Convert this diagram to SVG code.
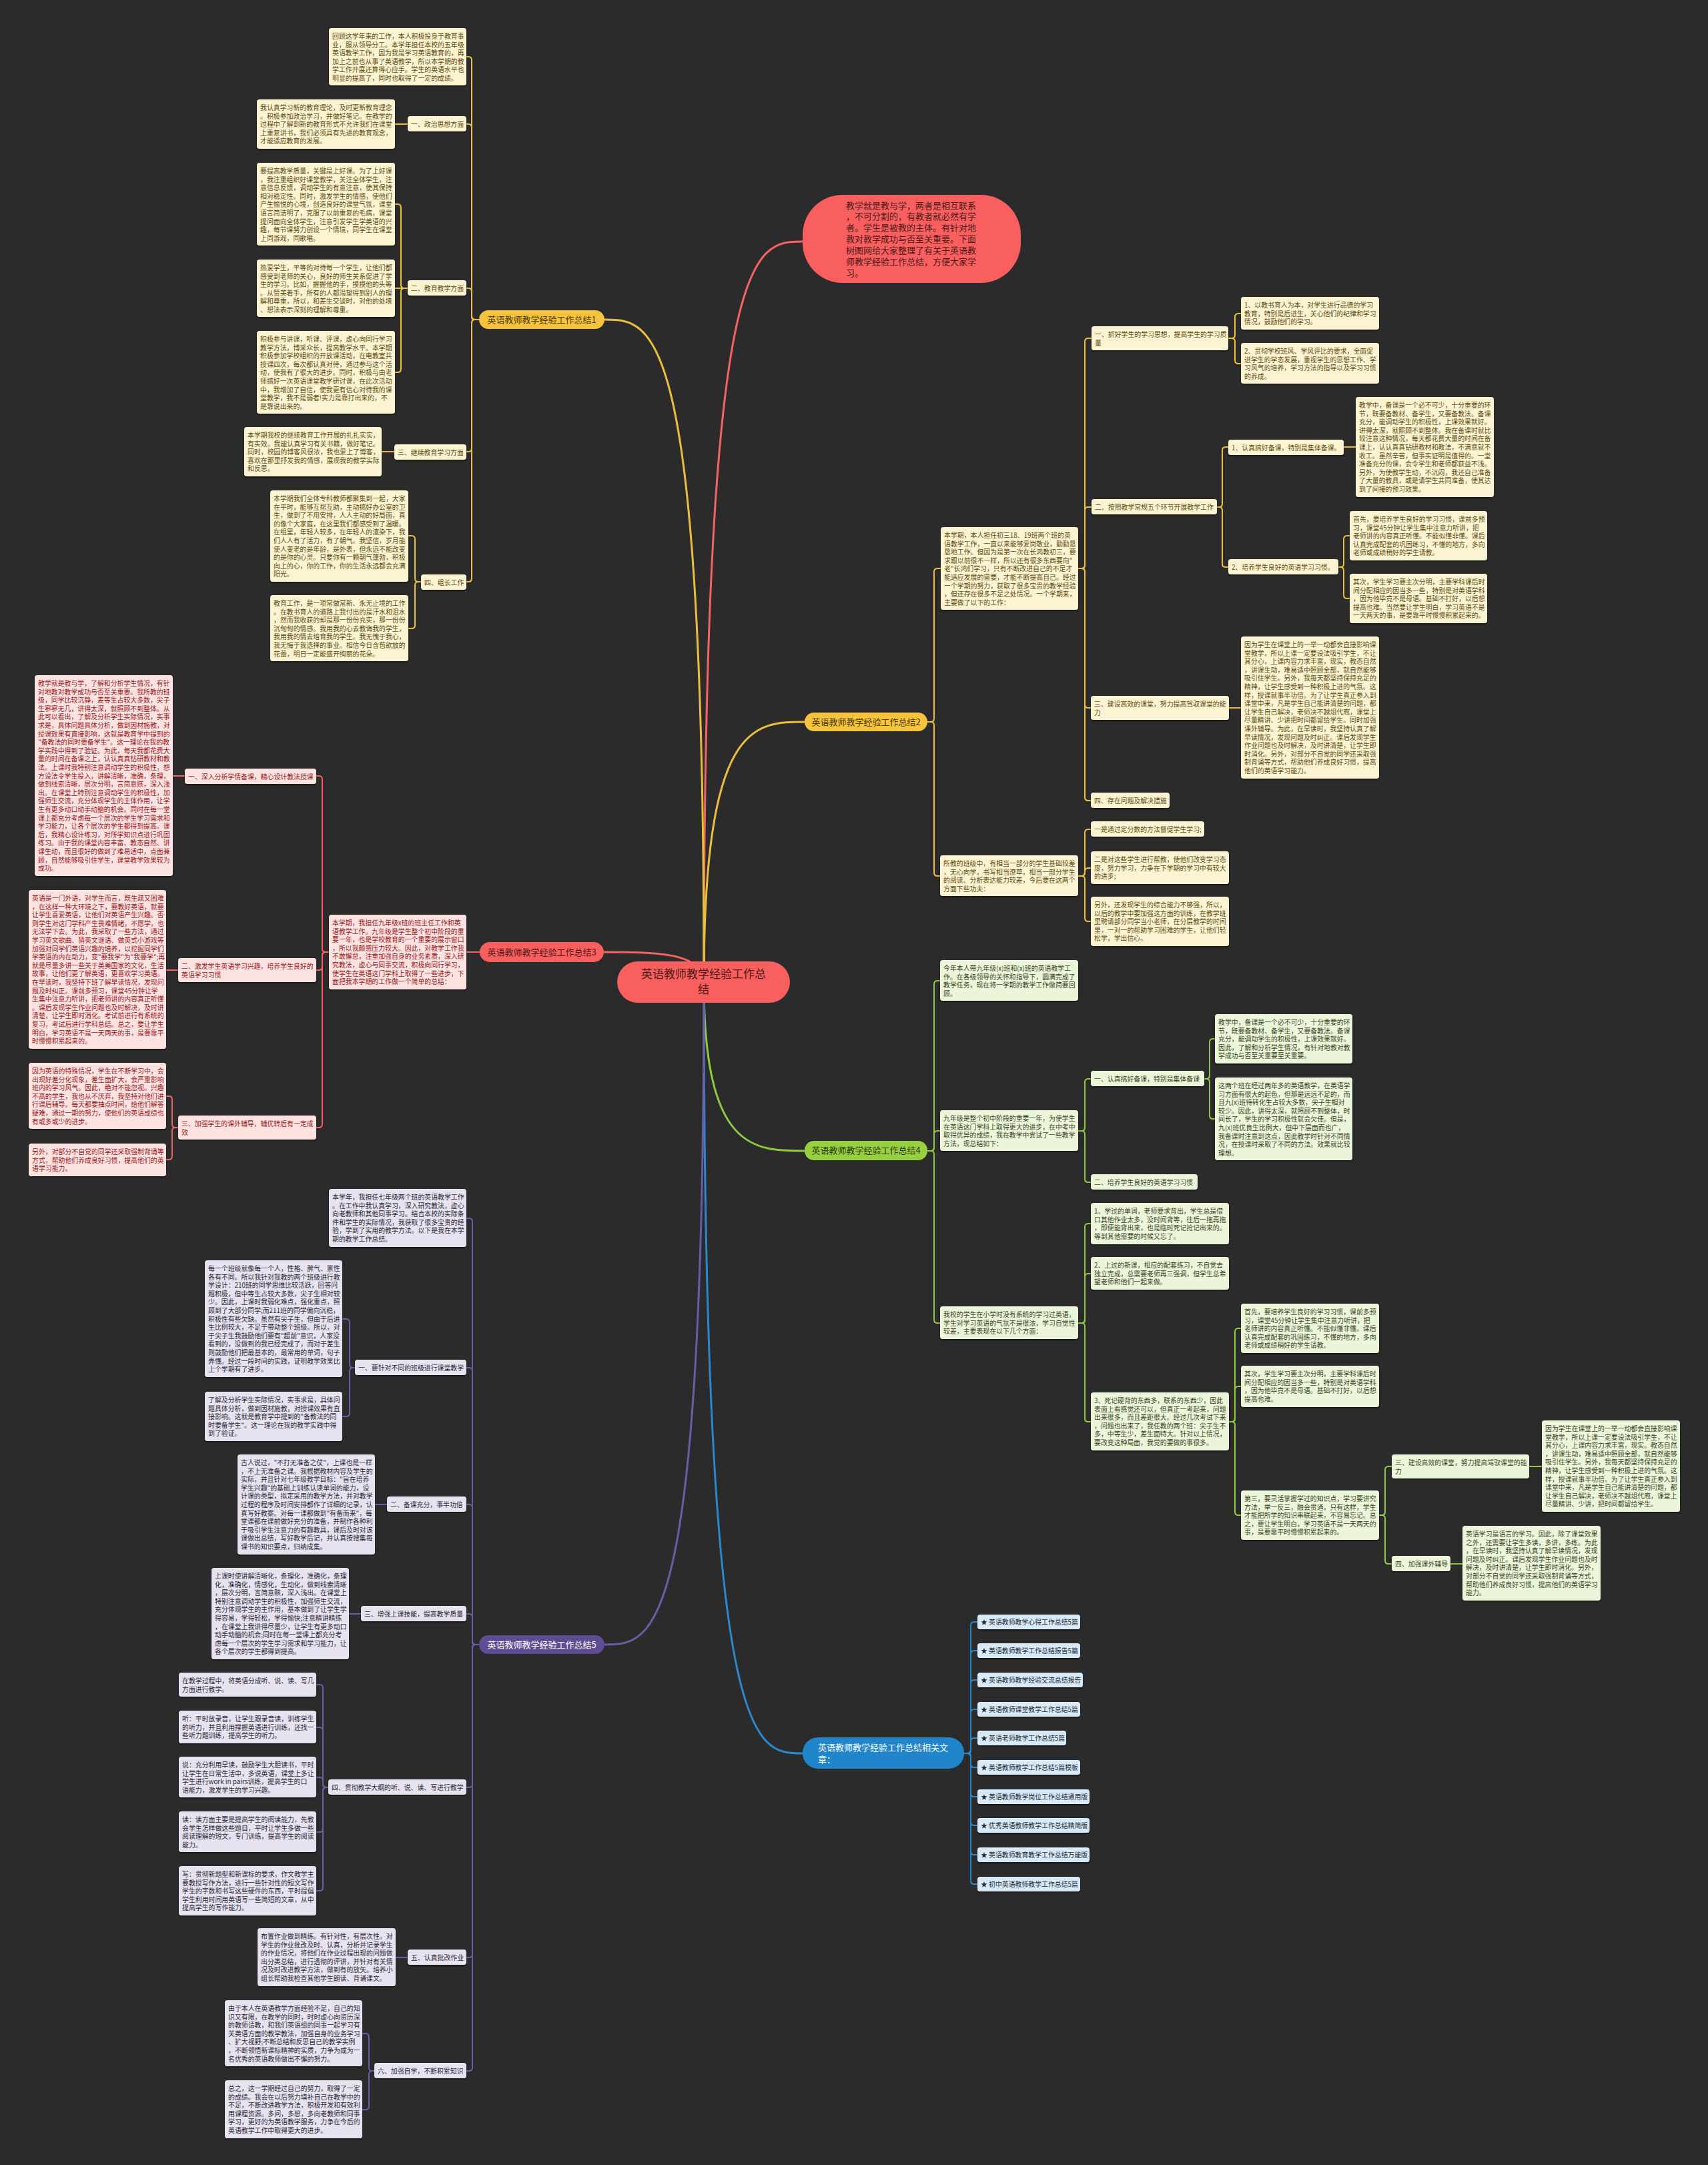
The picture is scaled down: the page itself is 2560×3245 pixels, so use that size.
<svg xmlns="http://www.w3.org/2000/svg" width="2560" height="3245" viewBox="0 0 2560 3245">
<defs>
<filter id="sh" x="-5%" y="-5%" width="110%" height="115%"><feDropShadow dx="0" dy="1.5" stdDeviation="1" flood-color="#000" flood-opacity="0.55"/></filter>
<style>
text{font-family:"Noto Sans CJK SC","Noto Sans CJK JP","Liberation Sans",sans-serif;font-size:9.9px}
.t13{font-size:13px}
.t17{font-size:17px}
.mid{text-anchor:middle}
.by{fill:#fcf3d2;filter:url(#sh)}
.br{fill:#fde2e2;filter:url(#sh)}
.bg{fill:#ebf5da;filter:url(#sh)}
.bp{fill:#e6e2f0;filter:url(#sh)}
.bb{fill:#d8e9f7;filter:url(#sh)}
.xy{fill:#5e4c10}
.xr{fill:#962020}
.xg{fill:#3b4526}
.xp{fill:#2c2a35}
.xb{fill:#1e2a35}
.ny{fill:#f6c33e}
.nr{fill:#f95f5f}
.ng{fill:#97d03f}
.np{fill:#5f4c92}
.nb{fill:#2185cb}
.nty{fill:#4a3a08}
.ntr{fill:#4d1a1a}
.ntg{fill:#2d3a10}
.ntw{fill:#ffffff}
.c{fill:none;stroke-width:2}
.cm{fill:none;stroke-width:3}
.cy{stroke:#eabf3a}
.cr{stroke:#f26464}
.cg{stroke:#8fca3e}
.cp{stroke:#6e5ba6}
.cb{stroke:#2a88cf}
</style>
</defs>
<rect width="2560" height="3245" fill="#2b2b2b"/>

<g id="connectors">
<path class="cm cr" d="M1055 1472 C1055 362 1129 362 1203 362"/>
<path class="cm cy" d="M1055 1472 C1055 1082 1130 1082 1206 1082"/>
<path class="cm cg" d="M1055 1472 C1055 1725 1130 1725 1206 1725"/>
<path class="cm cb" d="M1055 1472 C1055 2628 1129 2628 1203 2628"/>
<path class="cm cy" d="M1055 1472 C1055 479 980 479 906 479"/>
<path class="cm cr" d="M1055 1472 C1055 1427 980 1427 905 1427"/>
<path class="cm cp" d="M1055 1472 C1055 2465 980 2465 906 2465"/>

<path class="c cy" d="M718 479 H712 Q707 479 707 474 V90 Q707 85 702 85 H699"/>
<path class="c cy" d="M718 479 H712 Q707 479 707 474 V191 Q707 186 702 186 H699"/>
<path class="c cy" d="M718 479 H712 Q707 479 707 474 V437 Q707 432 702 432 H699"/>
<path class="c cy" d="M718 479 H712 Q707 479 707 484 V672 Q707 677 702 677 H699"/>
<path class="c cy" d="M718 479 H712 Q707 479 707 484 V867 Q707 872 702 872 H699"/>
<path class="c cy" d="M611 186 H592"/>
<path class="c cy" d="M611 432 H606 Q601 432 601 427 V311 Q601 306 596 306 H592"/>
<path class="c cy" d="M611 432 H592"/>
<path class="c cy" d="M611 432 H606 Q601 432 601 437 V553 Q601 558 596 558 H592"/>
<path class="c cy" d="M591 677 H572"/>
<path class="c cy" d="M631 872 H627 Q622 872 622 867 V808 Q622 803 617 803 H612"/>
<path class="c cy" d="M631 872 H627 Q622 872 622 877 V937 Q622 942 617 942 H612"/>

<path class="c cr" d="M719 1427 H699"/>
<path class="c cr" d="M493 1427 H488 Q483 1427 483 1422 V1168 Q483 1163 478 1163 H474"/>
<path class="c cr" d="M493 1427 H488 Q483 1427 483 1432 V1449 Q483 1454 478 1454 H474"/>
<path class="c cr" d="M493 1427 H488 Q483 1427 483 1432 V1685 Q483 1690 478 1690 H474"/>
<path class="c cr" d="M277 1163 H259"/>
<path class="c cr" d="M267 1454 H249"/>
<path class="c cr" d="M267 1690 H263 Q258 1690 258 1685 V1648 Q258 1643 253 1643 H249"/>
<path class="c cr" d="M267 1690 H263 Q258 1690 258 1695 V1733 Q258 1738 253 1738 H249"/>

<path class="c cy" d="M1390 1082 H1395 Q1400 1082 1400 1077 V857 Q1400 852 1405 852 H1410"/>
<path class="c cy" d="M1390 1082 H1395 Q1400 1082 1400 1087 V1308 Q1400 1313 1405 1313 H1409"/>
<path class="c cy" d="M1616 852 H1621 Q1626 852 1626 847 V512 Q1626 507 1631 507 H1636"/>
<path class="c cy" d="M1616 852 H1621 Q1626 852 1626 847 V765 Q1626 760 1631 760 H1636"/>
<path class="c cy" d="M1616 852 H1621 Q1626 852 1626 857 V1056 Q1626 1061 1631 1061 H1635"/>
<path class="c cy" d="M1616 852 H1621 Q1626 852 1626 857 V1195 Q1626 1200 1631 1200 H1635"/>
<path class="c cy" d="M1841 507 H1846 Q1851 507 1851 502 V475 Q1851 470 1856 470 H1860"/>
<path class="c cy" d="M1841 507 H1846 Q1851 507 1851 512 V540 Q1851 545 1856 545 H1860"/>
<path class="c cy" d="M1824 760 H1827 Q1832 760 1832 755 V675 Q1832 670 1837 670 H1841"/>
<path class="c cy" d="M1824 760 H1827 Q1832 760 1832 765 V845 Q1832 850 1837 850 H1841"/>
<path class="c cy" d="M2014 670 H2032"/>
<path class="c cy" d="M2006 850 H2009 Q2014 850 2014 845 V808 Q2014 803 2019 803 H2023"/>
<path class="c cy" d="M2006 850 H2009 Q2014 850 2014 855 V892 Q2014 897 2019 897 H2023"/>
<path class="c cy" d="M1842 1061 H1860"/>
<path class="c cy" d="M1616 1313 H1621 Q1626 1313 1626 1308 V1248 Q1626 1243 1631 1243 H1635"/>
<path class="c cy" d="M1616 1313 H1621 Q1626 1313 1626 1307 Q1626 1301 1631 1301 H1635"/>
<path class="c cy" d="M1616 1313 H1621 Q1626 1313 1626 1318 V1376 Q1626 1381 1631 1381 H1635"/>

<path class="c cg" d="M1390 1725 H1395 Q1400 1725 1400 1720 V1475 Q1400 1470 1405 1470 H1409"/>
<path class="c cg" d="M1390 1725 H1395 Q1400 1725 1400 1720 V1700 Q1400 1695 1405 1695 H1409"/>
<path class="c cg" d="M1390 1725 H1395 Q1400 1725 1400 1730 V1978 Q1400 1983 1405 1983 H1409"/>
<path class="c cg" d="M1616 1695 H1621 Q1626 1695 1626 1690 V1622 Q1626 1617 1631 1617 H1635"/>
<path class="c cg" d="M1616 1695 H1621 Q1626 1695 1626 1700 V1767 Q1626 1772 1631 1772 H1635"/>
<path class="c cg" d="M1805 1617 H1808 Q1813 1617 1813 1612 V1562 Q1813 1557 1818 1557 H1821"/>
<path class="c cg" d="M1805 1617 H1808 Q1813 1617 1813 1622 V1672 Q1813 1677 1818 1677 H1821"/>
<path class="c cg" d="M1616 1983 H1621 Q1626 1983 1626 1978 V1839 Q1626 1834 1631 1834 H1635"/>
<path class="c cg" d="M1616 1983 H1621 Q1626 1983 1626 1978 V1914 Q1626 1909 1631 1909 H1635"/>
<path class="c cg" d="M1616 1983 H1621 Q1626 1983 1626 1988 V2126 Q1626 2131 1631 2131 H1635"/>
<path class="c cg" d="M1842 2131 H1846 Q1851 2131 1851 2126 V1996 Q1851 1991 1856 1991 H1860"/>
<path class="c cg" d="M1842 2131 H1846 Q1851 2131 1851 2126 V2083 Q1851 2078 1856 2078 H1860"/>
<path class="c cg" d="M1842 2131 H1846 Q1851 2131 1851 2136 V2266 Q1851 2271 1856 2271 H1860"/>
<path class="c cg" d="M2067 2271 H2071 Q2076 2271 2076 2266 V2203 Q2076 2198 2081 2198 H2086"/>
<path class="c cg" d="M2067 2271 H2071 Q2076 2271 2076 2276 V2339 Q2076 2344 2081 2344 H2086"/>
<path class="c cg" d="M2292 2198 H2311"/>
<path class="c cg" d="M2174 2344 H2192"/>

<path class="c cp" d="M718 2465 H713 Q708 2465 708 2460 V1831 Q708 1826 703 1826 H699"/>
<path class="c cp" d="M718 2465 H713 Q708 2465 708 2460 V2055 Q708 2050 703 2050 H699"/>
<path class="c cp" d="M718 2465 H713 Q708 2465 708 2460 V2260 Q708 2255 703 2255 H699"/>
<path class="c cp" d="M718 2465 H713 Q708 2465 708 2460 V2424 Q708 2419 703 2419 H699"/>
<path class="c cp" d="M718 2465 H713 Q708 2465 708 2470 V2674 Q708 2679 703 2679 H699"/>
<path class="c cp" d="M718 2465 H713 Q708 2465 708 2470 V2929 Q708 2934 703 2934 H699"/>
<path class="c cp" d="M718 2465 H713 Q708 2465 708 2470 V3099 Q708 3104 703 3104 H699"/>
<path class="c cp" d="M532 2050 H529 Q524 2050 524 2045 V1982 Q524 1977 519 1977 H513"/>
<path class="c cp" d="M532 2050 H529 Q524 2050 524 2055 V2118 Q524 2123 519 2123 H513"/>
<path class="c cp" d="M580 2255 H562"/>
<path class="c cp" d="M541 2419 H523"/>
<path class="c cp" d="M492 2679 H489 Q484 2679 484 2674 V2530 Q484 2525 479 2525 H474"/>
<path class="c cp" d="M492 2679 H489 Q484 2679 484 2674 V2594 Q484 2589 479 2589 H474"/>
<path class="c cp" d="M492 2679 H489 Q484 2679 484 2674 V2669 Q484 2664 479 2664 H474"/>
<path class="c cp" d="M492 2679 H489 Q484 2679 484 2684 V2741 Q484 2746 479 2746 H474"/>
<path class="c cp" d="M492 2679 H489 Q484 2679 484 2684 V2829 Q484 2834 479 2834 H474"/>
<path class="c cp" d="M611 2934 H593"/>
<path class="c cp" d="M561 3104 H558 Q553 3104 553 3099 V3053 Q553 3048 548 3048 H543"/>
<path class="c cp" d="M561 3104 H558 Q553 3104 553 3109 V3157 Q553 3162 548 3162 H543"/>

<path class="c cb" d="M1445 2628 H1450 Q1455 2628 1455 2623 V2436 Q1455 2431 1460 2431 H1465"/>
<path class="c cb" d="M1445 2628 H1450 Q1455 2628 1455 2623 V2479 Q1455 2474 1460 2474 H1465"/>
<path class="c cb" d="M1445 2628 H1450 Q1455 2628 1455 2623 V2523 Q1455 2518 1460 2518 H1465"/>
<path class="c cb" d="M1445 2628 H1450 Q1455 2628 1455 2623 V2567 Q1455 2562 1460 2562 H1465"/>
<path class="c cb" d="M1445 2628 H1450 Q1455 2628 1455 2623 V2610 Q1455 2605 1460 2605 H1465"/>
<path class="c cb" d="M1445 2628 H1450 Q1455 2628 1455 2633 V2644 Q1455 2649 1460 2649 H1465"/>
<path class="c cb" d="M1445 2628 H1450 Q1455 2628 1455 2633 V2688 Q1455 2693 1460 2693 H1465"/>
<path class="c cb" d="M1445 2628 H1450 Q1455 2628 1455 2633 V2731 Q1455 2736 1460 2736 H1465"/>
<path class="c cb" d="M1445 2628 H1450 Q1455 2628 1455 2633 V2775 Q1455 2780 1460 2780 H1465"/>
<path class="c cb" d="M1445 2628 H1450 Q1455 2628 1455 2633 V2819 Q1455 2824 1460 2824 H1465"/>
</g>

<g id="root"><rect class="nr" x="925" y="1441" width="259" height="62" rx="31"/><text class="t17 mid ntr" x="1054.5" y="1466">英语教师教学经验工作总<tspan x="1054.5" y="1489">结</tspan></text></g>

<g id="intro"><rect class="nr" x="1203" y="292" width="327" height="132" rx="60"/><text class="t13 ntr" x="1268" y="312.5"><tspan>教学就是教与学，两者是相互联系</tspan><tspan x="1268" dy="16.87">，不可分割的，有教者就必然有学</tspan><tspan x="1268" dy="16.87">者。学生是被教的主体。有针对地</tspan><tspan x="1268" dy="16.87">教对教学成功与否至关重要。下面</tspan><tspan x="1268" dy="16.87">树图网给大家整理了有关于英语教</tspan><tspan x="1268" dy="16.87">师教学经验工作总结，方便大家学</tspan><tspan x="1268" dy="16.87">习。</tspan></text></g>

<!-- Section 1 -->
<g id="n1"><rect class="ny" x="718" y="465" width="188" height="28" rx="14"/><text class="t13 mid nty" x="812" y="484">英语教师教学经验工作总结1</text></g>
<g id="a1"><rect class="by" x="493" y="42" width="206" height="86" rx="4"/><text class="xy" x="498" y="58"><tspan>回顾这学年来的工作，本人积极投身于教育事</tspan><tspan x="498" dy="12.6">业，服从领导分工。本学年担任本校的五年级</tspan><tspan x="498" dy="12.6">英语教学工作，因为我是学习英语教育的，再</tspan><tspan x="498" dy="12.6">加上之前也从事了英语教学，所以本学期的教</tspan><tspan x="498" dy="12.6">学工作开展还算得心应手。学生的英语水平也</tspan><tspan x="498" dy="12.6">明显的提高了，同时也取得了一定的成绩。</tspan></text></g>
<g id="l1-1"><rect class="by" x="611" y="174" width="88" height="23" rx="4"/><text class="xy" x="616" y="190">一、政治思想方面</text></g>
<g id="b1"><rect class="by" x="385" y="149" width="207" height="74" rx="4"/><text class="xy" x="390" y="165"><tspan>我认真学习新的教育理论，及时更新教育理念</tspan><tspan x="390" dy="12.6">。积极参加政治学习，并做好笔记。在教学的</tspan><tspan x="390" dy="12.6">过程中了解到新的教育形式不允许我们在课堂</tspan><tspan x="390" dy="12.6">上重复讲书，我们必须具有先进的教育观念，</tspan><tspan x="390" dy="12.6">才能适应教育的发展。</tspan></text></g>
<g id="l1-2"><rect class="by" x="611" y="420" width="88" height="23" rx="4"/><text class="xy" x="616" y="436">二、教育教学方面</text></g>
<g id="c1"><rect class="by" x="385" y="244" width="207" height="124" rx="4"/><text class="xy" x="390" y="260"><tspan>要提高教学质量，关键是上好课。为了上好课</tspan><tspan x="390" dy="12.6">，我注重组织好课堂教学，关注全体学生，注</tspan><tspan x="390" dy="12.6">意信息反馈，调动学生的有意注意，使其保持</tspan><tspan x="390" dy="12.6">相对稳定性。同时，激发学生的情感，使他们</tspan><tspan x="390" dy="12.6">产生愉悦的心境，创造良好的课堂气氛，课堂</tspan><tspan x="390" dy="12.6">语言简洁明了，克服了以前重复的毛病，课堂</tspan><tspan x="390" dy="12.6">提问面向全体学生，注意引发学生学英语的兴</tspan><tspan x="390" dy="12.6">趣，每节课努力创设一个情境，同学生在课堂</tspan><tspan x="390" dy="12.6">上同游戏，同歌唱。</tspan></text></g>
<g id="c2"><rect class="by" x="385" y="389" width="207" height="86" rx="4"/><text class="xy" x="390" y="405"><tspan>热爱学生，平等的对待每一个学生，让他们都</tspan><tspan x="390" dy="12.6">感受到老师的关心，良好的师生关系促进了学</tspan><tspan x="390" dy="12.6">生的学习。比如，握握他的手，摸摸他的头等</tspan><tspan x="390" dy="12.6">。从赞美着手，所有的人都渴望得到别人的理</tspan><tspan x="390" dy="12.6">解和尊重，所以，和差生交谈时，对他的处境</tspan><tspan x="390" dy="12.6">、想法表示深刻的理解和尊重。</tspan></text></g>
<g id="c3"><rect class="by" x="385" y="496" width="207" height="124" rx="4"/><text class="xy" x="390" y="512"><tspan>积极参与讲课，听课、评课，虚心向同行学习</tspan><tspan x="390" dy="12.6">教学方法，博采众长，提高教学水平。本学期</tspan><tspan x="390" dy="12.6">积极参加学校组织的开放课活动，在电教室共</tspan><tspan x="390" dy="12.6">授课四次，每次都认真对待，通过参与这个活</tspan><tspan x="390" dy="12.6">动，使我有了很大的进步。同时，积极与由老</tspan><tspan x="390" dy="12.6">师搞好一次英语课堂教学研讨课，在此次活动</tspan><tspan x="390" dy="12.6">中，我增加了自信，使我更有信心对待我的课</tspan><tspan x="390" dy="12.6">堂教学，我不是弱者!实力是靠打出来的，不</tspan><tspan x="390" dy="12.6">是靠说出来的。</tspan></text></g>
<g id="l1-3"><rect class="by" x="591" y="666" width="108" height="23" rx="4"/><text class="xy" x="596" y="682">三、继续教育学习方面</text></g>
<g id="d1"><rect class="by" x="366" y="640" width="206" height="74" rx="4"/><text class="xy" x="371" y="656"><tspan>本学期我校的继续教育工作开展的扎扎实实，</tspan><tspan x="371" dy="12.6">有实效。我能认真学习有关书籍，做好笔记。</tspan><tspan x="371" dy="12.6">同时，校园的博客风很浓，我也爱上了博客，</tspan><tspan x="371" dy="12.6">喜欢在那里抒发我的情感，展现我的教学实际</tspan><tspan x="371" dy="12.6">和反思。</tspan></text></g>
<g id="l1-4"><rect class="by" x="631" y="861" width="68" height="23" rx="4"/><text class="xy" x="636" y="877">四、组长工作</text></g>
<g id="e1"><rect class="by" x="405" y="735" width="207" height="137" rx="4"/><text class="xy" x="410" y="751"><tspan>本学期我们全体专科教师都聚集到一起，大家</tspan><tspan x="410" dy="12.6">在平时，能够互帮互助，主动搞好办公室的卫</tspan><tspan x="410" dy="12.6">生，做到了不用安排，人人主动的好局面，真</tspan><tspan x="410" dy="12.6">的像个大家庭，在这里我们都感受到了温暖。</tspan><tspan x="410" dy="12.6">在组里，年轻人较多，在年轻人的渲染下，我</tspan><tspan x="410" dy="12.6">们人人有了活力，有了朝气。我坚信，岁月能</tspan><tspan x="410" dy="12.6">使人变老的是年龄，是外表，但永远不能改变</tspan><tspan x="410" dy="12.6">的是你的心灵。只要你有一颗朝气蓬勃，积极</tspan><tspan x="410" dy="12.6">向上的心，你的工作，你的生活永远都会充满</tspan><tspan x="410" dy="12.6">阳光。</tspan></text></g>
<g id="e2"><rect class="by" x="405" y="892" width="207" height="99" rx="4"/><text class="xy" x="410" y="908"><tspan>教育工作，是一项常做常新、永无止境的工作</tspan><tspan x="410" dy="12.6">。在教书育人的道路上我付出的是汗水和泪水</tspan><tspan x="410" dy="12.6">，然而我收获的却是那一份份充实，那一份份</tspan><tspan x="410" dy="12.6">沉甸甸的情感。我用我的心去教诲我的学生，</tspan><tspan x="410" dy="12.6">我用我的情去培育我的学生。我无愧于我心，</tspan><tspan x="410" dy="12.6">我无悔于我选择的事业。相信今日含苞欲放的</tspan><tspan x="410" dy="12.6">花蕾，明日一定能盛开绚丽的花朵。</tspan></text></g>

<!-- Section 3 -->
<g id="n3"><rect class="nr" x="719" y="1412" width="186" height="30" rx="15"/><text class="t13 mid ntr" x="812" y="1432">英语教师教学经验工作总结3</text></g>
<g id="f0"><rect class="br" x="493" y="1371" width="206" height="112" rx="4"/><text class="xr" x="498" y="1387"><tspan>本学期，我担任九年级x班的班主任工作和英</tspan><tspan x="498" dy="12.6">语教学工作。九年级是学生整个初中阶段的重</tspan><tspan x="498" dy="12.6">要一年，也是学校教育的一个重要的展示窗口</tspan><tspan x="498" dy="12.6">，所以我颇感压力较大。因此，对教学工作我</tspan><tspan x="498" dy="12.6">不敢懈怠，注重加强自身的业务素质，深入研</tspan><tspan x="498" dy="12.6">究教法，虚心与同事交流，积极向同行学习，</tspan><tspan x="498" dy="12.6">使学生在英语这门学科上取得了一些进步，下</tspan><tspan x="498" dy="12.6">面把我本学期的工作做一个简单的总结：</tspan></text></g>
<g id="g1"><rect class="br" x="277" y="1152" width="197" height="23" rx="4"/><text class="xr" x="282" y="1168">一、深入分析学情备课，精心设计教法授课</text></g>
<g id="g1a"><rect class="br" x="52" y="1012" width="207" height="301" rx="4"/><text class="xr" x="57" y="1028"><tspan>教学就是教与学，了解和分析学生情况，有针</tspan><tspan x="57" dy="12.6">对地教对教学成功与否至关重要。我所教的班</tspan><tspan x="57" dy="12.6">级，同学比较沉静，差等生占较大多数，尖子</tspan><tspan x="57" dy="12.6">生寥寥无几，讲得太深，就照顾不到整体。从</tspan><tspan x="57" dy="12.6">此可以看出，了解及分析学生实际情况，实事</tspan><tspan x="57" dy="12.6">求是，具体问题具体分析，做到因材施教，对</tspan><tspan x="57" dy="12.6">授课效果有直接影响，这就是教育学中提到的</tspan><tspan x="57" dy="12.6">"备教法的同时要备学生"。这一理论在我的教</tspan><tspan x="57" dy="12.6">学实践中得到了验证。为此，每天我都花费大</tspan><tspan x="57" dy="12.6">量的时间在备课之上，认认真真钻研教材和教</tspan><tspan x="57" dy="12.6">法。上课时我特别注意调动学生的积极性，想</tspan><tspan x="57" dy="12.6">方设法令学生投入，讲解清晰，准确，条理，</tspan><tspan x="57" dy="12.6">做到线索清晰，层次分明，言简意赅，深入浅</tspan><tspan x="57" dy="12.6">出。在课堂上特别注意调动学生的积极性，加</tspan><tspan x="57" dy="12.6">强师生交流，充分体现学生的主体作用，让学</tspan><tspan x="57" dy="12.6">生有更多动口动手动脑的机会。同时在每一堂</tspan><tspan x="57" dy="12.6">课上都充分考虑每一个层次的学生学习需求和</tspan><tspan x="57" dy="12.6">学习能力，让各个层次的学生都得到提高。课</tspan><tspan x="57" dy="12.6">后，我精心设计练习，对所学知识点进行巩固</tspan><tspan x="57" dy="12.6">练习。由于我的课堂内容丰富、教态自然、讲</tspan><tspan x="57" dy="12.6">课生动，而且很好的做到了难易适中，点面兼</tspan><tspan x="57" dy="12.6">顾，自然能够吸引住学生，课堂教学效果较为</tspan><tspan x="57" dy="12.6">成功。</tspan></text></g>
<g id="g2"><rect class="br" x="267" y="1436" width="207" height="36" rx="4"/><text class="xr" x="272" y="1452"><tspan>二、激发学生英语学习兴趣，培养学生良好的</tspan><tspan x="272" dy="12.6">英语学习习惯</tspan></text></g>
<g id="g2a"><rect class="br" x="43" y="1334" width="206" height="238" rx="4"/><text class="xr" x="48" y="1350"><tspan>英语是一门外语，对学生而言，既生疏又困难</tspan><tspan x="48" dy="12.6">，在这样一种大环境之下，要教好英语，就要</tspan><tspan x="48" dy="12.6">让学生喜爱英语，让他们对英语产生兴趣。否</tspan><tspan x="48" dy="12.6">则学生对这门学科产生畏难情绪，不愿学，也</tspan><tspan x="48" dy="12.6">无法学下去。为此，我采取了一些方法，通过</tspan><tspan x="48" dy="12.6">学习英文歌曲、猜英文谜语、做英式小游戏等</tspan><tspan x="48" dy="12.6">加强对同学们英语兴趣的培养，以挖掘同学们</tspan><tspan x="48" dy="12.6">学英语的内在动力，变"要我学"为"我要学";再</tspan><tspan x="48" dy="12.6">就是尽量多讲一些关于英美国家的文化，生活</tspan><tspan x="48" dy="12.6">故事，让他们更了解英语，更喜欢学习英语。</tspan><tspan x="48" dy="12.6">在早读时，我坚持下班了解早读情况，发现问</tspan><tspan x="48" dy="12.6">题及时纠正。课前多预习，课堂45分钟让学</tspan><tspan x="48" dy="12.6">生集中注意力听讲，把老师讲的内容真正听懂</tspan><tspan x="48" dy="12.6">。课后发现学生作业问题也及时解决，及时讲</tspan><tspan x="48" dy="12.6">清楚，让学生即时消化。考试前进行有系统的</tspan><tspan x="48" dy="12.6">复习，考试后进行学科总结。总之，要让学生</tspan><tspan x="48" dy="12.6">明白，学习英语不是一天两天的事，是要靠平</tspan><tspan x="48" dy="12.6">时慢慢积累起来的。</tspan></text></g>
<g id="g3"><rect class="br" x="267" y="1672" width="207" height="36" rx="4"/><text class="xr" x="272" y="1688"><tspan>三、加强学生的课外辅导，辅优转后有一定成</tspan><tspan x="272" dy="12.6">效</tspan></text></g>
<g id="g3a"><rect class="br" x="43" y="1593" width="206" height="99" rx="4"/><text class="xr" x="48" y="1609"><tspan>因为英语的特殊情况，学生在不断学习中，会</tspan><tspan x="48" dy="12.6">出现好差分化现象，差生面扩大，会严重影响</tspan><tspan x="48" dy="12.6">班内的学习风气。因此，绝对不能忽视。兴趣</tspan><tspan x="48" dy="12.6">不高的学生，我也从不厌弃，我坚持对他们进</tspan><tspan x="48" dy="12.6">行课后辅导。每天都要抽点时间，给他们解答</tspan><tspan x="48" dy="12.6">疑难，通过一期的努力，使他们的英语成绩也</tspan><tspan x="48" dy="12.6">有或多或少的进步。</tspan></text></g>
<g id="g3b"><rect class="br" x="43" y="1714" width="206" height="49" rx="4"/><text class="xr" x="48" y="1730"><tspan>另外，对部分不自觉的同学还采取强制背诵等</tspan><tspan x="48" dy="12.6">方式，帮助他们养成良好习惯，提高他们的英</tspan><tspan x="48" dy="12.6">语学习能力。</tspan></text></g>

<!-- Section 2 -->
<g id="n2"><rect class="ny" x="1206" y="1068" width="184" height="28" rx="14"/><text class="t13 mid nty" x="1298" y="1087">英语教师教学经验工作总结2</text></g>
<g id="h0"><rect class="by" x="1410" y="790" width="206" height="124" rx="4"/><text class="xy" x="1415" y="806"><tspan>本学期，本人担任初三18、19班两个班的英</tspan><tspan x="1415" dy="12.6">语教学工作，一直以来能够爱岗敬业，勤勤恳</tspan><tspan x="1415" dy="12.6">恳地工作。但因为是第一次在长鸿教初三，要</tspan><tspan x="1415" dy="12.6">求跟以前很不一样，所以还有很多东西要向"</tspan><tspan x="1415" dy="12.6">老"长鸿们学习，只有不断改进自己的不足才</tspan><tspan x="1415" dy="12.6">能适应发展的需要，才能不断提高自己。经过</tspan><tspan x="1415" dy="12.6">一个学期的努力，获取了很多宝贵的教学经验</tspan><tspan x="1415" dy="12.6">，但还存在很多不足之处情况。一个学期来，</tspan><tspan x="1415" dy="12.6">主要做了以下的工作：</tspan></text></g>
<g id="h1l"><rect class="by" x="1636" y="489" width="205" height="36" rx="4"/><text class="xy" x="1641" y="505"><tspan>一、抓好学生的学习思想，提高学生的学习质</tspan><tspan x="1641" dy="12.6">量</tspan></text></g>
<g id="h1la"><rect class="by" x="1860" y="445" width="207" height="49" rx="4"/><text class="xy" x="1865" y="461"><tspan>1、以教书育人为本，对学生进行品德的学习</tspan><tspan x="1865" dy="12.6">教育，特别是后进生，关心他们的纪律和学习</tspan><tspan x="1865" dy="12.6">情况，鼓励他们的学习。</tspan></text></g>
<g id="h1lb"><rect class="by" x="1860" y="514" width="207" height="61" rx="4"/><text class="xy" x="1865" y="530"><tspan>2、贯彻学校班风、学风评比的要求，全面促</tspan><tspan x="1865" dy="12.6">进学生的学态发展，重视学生的思想工作、学</tspan><tspan x="1865" dy="12.6">习风气的培养，学习方法的指导以及学习习惯</tspan><tspan x="1865" dy="12.6">的养成。</tspan></text></g>
<g id="h2l"><rect class="by" x="1636" y="748" width="188" height="23" rx="4"/><text class="xy" x="1641" y="764">二、按照教学常规五个环节开展教学工作</text></g>
<g id="h2l1"><rect class="by" x="1841" y="659" width="173" height="23" rx="4"/><text class="xy" x="1846" y="675">1、认真搞好备课，特别是集体备课。</text></g>
<g id="h2l1a"><rect class="by" x="2032" y="595" width="207" height="150" rx="4"/><text class="xy" x="2037" y="611"><tspan>教学中，备课是一个必不可少，十分重要的环</tspan><tspan x="2037" dy="12.6">节，既要备教材、备学生，又要备教法。备课</tspan><tspan x="2037" dy="12.6">充分，能调动学生的积极性，上课效果就好。</tspan><tspan x="2037" dy="12.6">讲得太深，就照顾不到整体。我在备课时就比</tspan><tspan x="2037" dy="12.6">较注意这种情况，每天都花费大量的时间在备</tspan><tspan x="2037" dy="12.6">课上，认认真真钻研教材和教法，不满意就不</tspan><tspan x="2037" dy="12.6">收工。虽然辛苦，但事实证明是值得的。一堂</tspan><tspan x="2037" dy="12.6">准备充分的课，会令学生和老师都获益不浅。</tspan><tspan x="2037" dy="12.6">另外，为使教学生动，不沉闷，我还自己准备</tspan><tspan x="2037" dy="12.6">了大量的教具，或是请学生共同准备，使其达</tspan><tspan x="2037" dy="12.6">到了间接的预习效果。</tspan></text></g>
<g id="h2l2"><rect class="by" x="1841" y="838" width="165" height="23" rx="4"/><text class="xy" x="1846" y="854">2、培养学生良好的英语学习习惯。</text></g>
<g id="h2l2a"><rect class="by" x="2023" y="766" width="206" height="74" rx="4"/><text class="xy" x="2028" y="782"><tspan>首先，要培养学生良好的学习习惯，课前多预</tspan><tspan x="2028" dy="12.6">习，课堂45分钟让学生集中注意力听讲，把</tspan><tspan x="2028" dy="12.6">老师讲的内容真正听懂。不能似懂非懂。课后</tspan><tspan x="2028" dy="12.6">认真完成配套的巩固练习，不懂的地方，多向</tspan><tspan x="2028" dy="12.6">老师或成绩稍好的学生请教。</tspan></text></g>
<g id="h2l2b"><rect class="by" x="2023" y="860" width="206" height="74" rx="4"/><text class="xy" x="2028" y="876"><tspan>其次，学生学习要主次分明，主要学科课后时</tspan><tspan x="2028" dy="12.6">间分配相应的因当多一些，特别是对英语学科</tspan><tspan x="2028" dy="12.6">，因为他毕竟不是母语。基础不打好，以后想</tspan><tspan x="2028" dy="12.6">提高也难。当然要让学生明白，学习英语不是</tspan><tspan x="2028" dy="12.6">一天两天的事，是要靠平时慢慢积累起来的。</tspan></text></g>
<g id="h3l"><rect class="by" x="1635" y="1043" width="207" height="36" rx="4"/><text class="xy" x="1640" y="1059"><tspan>三、建设高效的课堂，努力提高驾驭课堂的能</tspan><tspan x="1640" dy="12.6">力</tspan></text></g>
<g id="h3la"><rect class="by" x="1860" y="954" width="207" height="213" rx="4"/><text class="xy" x="1865" y="970"><tspan>因为学生在课堂上的一举一动都会直接影响课</tspan><tspan x="1865" dy="12.6">堂教学，所以上课一定要设法吸引学生，不让</tspan><tspan x="1865" dy="12.6">其分心，上课内容力求丰富，现实，教态自然</tspan><tspan x="1865" dy="12.6">，讲课生动，难易适中照顾全部，就自然能够</tspan><tspan x="1865" dy="12.6">吸引住学生。另外，我每天都坚持保持充足的</tspan><tspan x="1865" dy="12.6">精神，让学生感受到一种积极上进的气氛。这</tspan><tspan x="1865" dy="12.6">样，授课就事半功倍。为了让学生真正参入到</tspan><tspan x="1865" dy="12.6">课堂中来，凡是学生自己能讲清楚的问题，都</tspan><tspan x="1865" dy="12.6">让学生自己解决，老师决不越俎代庖，课堂上</tspan><tspan x="1865" dy="12.6">尽量精讲、少讲把时间都留给学生。同时加强</tspan><tspan x="1865" dy="12.6">课外辅导。为此，在早读时，我坚持认真了解</tspan><tspan x="1865" dy="12.6">早读情况，发现问题及时纠正。课后发现学生</tspan><tspan x="1865" dy="12.6">作业问题也及时解决，及时讲清楚，让学生即</tspan><tspan x="1865" dy="12.6">时消化。另外，对部分不自觉的同学还采取强</tspan><tspan x="1865" dy="12.6">制背诵等方式，帮助他们养成良好习惯，提高</tspan><tspan x="1865" dy="12.6">他们的英语学习能力。</tspan></text></g>
<g id="h4l"><rect class="by" x="1635" y="1188" width="118" height="23" rx="4"/><text class="xy" x="1640" y="1204">四、存在问题及解决措施</text></g>
<g id="h1"><rect class="by" x="1409" y="1282" width="207" height="61" rx="4"/><text class="xy" x="1414" y="1298"><tspan>所教的班级中，有相当一部分的学生基础较差</tspan><tspan x="1414" dy="12.6">，无心向学，书写相当潦草，相当一部分学生</tspan><tspan x="1414" dy="12.6">的阅读、分析表达能力较差，今后要在这两个</tspan><tspan x="1414" dy="12.6">方面下些功夫：</tspan></text></g>
<g id="h1a"><rect class="by" x="1635" y="1231" width="170" height="23" rx="4"/><text class="xy" x="1640" y="1247">一是通过定分数的方法督促学生学习;</text></g>
<g id="h1b"><rect class="by" x="1635" y="1276" width="207" height="49" rx="4"/><text class="xy" x="1640" y="1292"><tspan>二是对这些学生进行帮教，使他们改变学习态</tspan><tspan x="1640" dy="12.6">度，努力学习，力争在下学期的学习中有较大</tspan><tspan x="1640" dy="12.6">的进步;</tspan></text></g>
<g id="h1c"><rect class="by" x="1635" y="1344" width="207" height="74" rx="4"/><text class="xy" x="1640" y="1360"><tspan>另外，还发现学生的综合能力不够强，所以，</tspan><tspan x="1640" dy="12.6">以后的教学中要加强这方面的训练，在教学班</tspan><tspan x="1640" dy="12.6">里聘请部分同学当小老师，在分层教学的时间</tspan><tspan x="1640" dy="12.6">里，一对一的帮助学习困难的学生，让他们轻</tspan><tspan x="1640" dy="12.6">松学，学出信心。</tspan></text></g>

<!-- Section 4 -->
<g id="n4"><rect class="ng" x="1206" y="1710" width="184" height="29" rx="14"/><text class="t13 mid ntg" x="1298" y="1729">英语教师教学经验工作总结4</text></g>
<g id="k0"><rect class="bg" x="1409" y="1439" width="207" height="61" rx="4"/><text class="xg" x="1414" y="1455"><tspan>今年本人带九年级(x)班和(x)班的英语教学工</tspan><tspan x="1414" dy="12.6">作。在各级领导的关怀和指导下，圆满完成了</tspan><tspan x="1414" dy="12.6">教学任务，现在将一学期的教学工作做简要回</tspan><tspan x="1414" dy="12.6">顾。</tspan></text></g>
<g id="k1"><rect class="bg" x="1409" y="1664" width="207" height="61" rx="4"/><text class="xg" x="1414" y="1680"><tspan>九年级是整个初中阶段的重要一年，为使学生</tspan><tspan x="1414" dy="12.6">在英语这门学科上取得更大的进步，在中考中</tspan><tspan x="1414" dy="12.6">取得优异的成绩，我在教学中尝试了一些教学</tspan><tspan x="1414" dy="12.6">方法，现总结如下：</tspan></text></g>
<g id="k1a"><rect class="bg" x="1635" y="1605" width="170" height="23" rx="4"/><text class="xg" x="1640" y="1621">一、认真搞好备课，特别是集体备课</text></g>
<g id="k1a1"><rect class="bg" x="1821" y="1520" width="206" height="74" rx="4"/><text class="xg" x="1826" y="1536"><tspan>教学中，备课是一个必不可少，十分重要的环</tspan><tspan x="1826" dy="12.6">节，既要备教材、备学生，又要备教法。备课</tspan><tspan x="1826" dy="12.6">充分，能调动学生的积极性，上课效果就好。</tspan><tspan x="1826" dy="12.6">因此，了解和分析学生情况，有针对地教对教</tspan><tspan x="1826" dy="12.6">学成功与否至关重要至关重要。</tspan></text></g>
<g id="k1a2"><rect class="bg" x="1821" y="1615" width="206" height="124" rx="4"/><text class="xg" x="1826" y="1631"><tspan>这两个班在经过两年多的英语教学，在英语学</tspan><tspan x="1826" dy="12.6">习方面有很大的起色，但那是远远不足的，而</tspan><tspan x="1826" dy="12.6">且九(x)班待转化生占较大多数，尖子生相对</tspan><tspan x="1826" dy="12.6">较少。因此，讲得太深，就照顾不到整体，时</tspan><tspan x="1826" dy="12.6">间长了，学生的学习积极性就会欠佳。但是，</tspan><tspan x="1826" dy="12.6">九(x)班优良生比例大，但中下层面而也广，</tspan><tspan x="1826" dy="12.6">我备课时注意到这点，因此教学时针对不同情</tspan><tspan x="1826" dy="12.6">况，在授课时采取了不同的方法。效果就比较</tspan><tspan x="1826" dy="12.6">理想。</tspan></text></g>
<g id="k1b"><rect class="bg" x="1635" y="1760" width="160" height="23" rx="4"/><text class="xg" x="1640" y="1776">二、培养学生良好的英语学习习惯</text></g>
<g id="k2"><rect class="bg" x="1409" y="1958" width="207" height="49" rx="4"/><text class="xg" x="1414" y="1974"><tspan>我校的学生在小学时没有系统的学习过英语，</tspan><tspan x="1414" dy="12.6">学生对学习英语的气氛不是很浓，学习自觉性</tspan><tspan x="1414" dy="12.6">较差，主要表现在以下几个方面：</tspan></text></g>
<g id="k2a"><rect class="bg" x="1635" y="1803" width="207" height="62" rx="4"/><text class="xg" x="1640" y="1819"><tspan>1、学过的单词，老师要求背出，学生总是借</tspan><tspan x="1640" dy="12.6">口其他作业太多，没时间背等，往后一拖再拖</tspan><tspan x="1640" dy="12.6">，即便能背出来，也是临时死记抢记出来的。</tspan><tspan x="1640" dy="12.6">等到其他需要的时候又忘了。</tspan></text></g>
<g id="k2b"><rect class="bg" x="1635" y="1884" width="207" height="49" rx="4"/><text class="xg" x="1640" y="1900"><tspan>2、上过的新课，相应的配套练习，不自觉去</tspan><tspan x="1640" dy="12.6">独立完成，总需要老师再三强调，但学生总希</tspan><tspan x="1640" dy="12.6">望老师和他们一起来做。</tspan></text></g>
<g id="k2c"><rect class="bg" x="1635" y="2087" width="207" height="87" rx="4"/><text class="xg" x="1640" y="2103"><tspan>3、死记硬背的东西多，联系的东西少，因此</tspan><tspan x="1640" dy="12.6">表面上看感觉还可以，但真正一考起来，问题</tspan><tspan x="1640" dy="12.6">出来很多，而且差距很大。经过几次考试下来</tspan><tspan x="1640" dy="12.6">，问题也出来了，我任教的两个班：尖子生不</tspan><tspan x="1640" dy="12.6">多，中等生少，差生面特大。针对以上情况，</tspan><tspan x="1640" dy="12.6">要改变这种局面，我觉的要做的事很多。</tspan></text></g>
<g id="k2c1"><rect class="bg" x="1860" y="1954" width="207" height="74" rx="4"/><text class="xg" x="1865" y="1970"><tspan>首先，要培养学生良好的学习习惯，课前多预</tspan><tspan x="1865" dy="12.6">习，课堂45分钟让学生集中注意力听讲，把</tspan><tspan x="1865" dy="12.6">老师讲的内容真正听懂。不能似懂非懂。课后</tspan><tspan x="1865" dy="12.6">认真完成配套的巩固练习，不懂的地方，多向</tspan><tspan x="1865" dy="12.6">老师或成绩稍好的学生请教。</tspan></text></g>
<g id="k2c2"><rect class="bg" x="1860" y="2047" width="207" height="62" rx="4"/><text class="xg" x="1865" y="2063"><tspan>其次，学生学习要主次分明，主要学科课后时</tspan><tspan x="1865" dy="12.6">间分配相应的因当多一些，特别是对英语学科</tspan><tspan x="1865" dy="12.6">，因为他毕竟不是母语。基础不打好，以后想</tspan><tspan x="1865" dy="12.6">提高也难。</tspan></text></g>
<g id="k2c3"><rect class="bg" x="1860" y="2234" width="207" height="74" rx="4"/><text class="xg" x="1865" y="2250"><tspan>第三，要灵活掌握学过的知识点，学习要讲究</tspan><tspan x="1865" dy="12.6">方法，举一反三，融会贯通，只有这样，学生</tspan><tspan x="1865" dy="12.6">才能把所学的知识串联起来，不容易忘记。总</tspan><tspan x="1865" dy="12.6">之，要让学生明白，学习英语不是一天两天的</tspan><tspan x="1865" dy="12.6">事，是要靠平时慢慢积累起来的。</tspan></text></g>
<g id="k2c3a"><rect class="bg" x="2086" y="2180" width="206" height="36" rx="4"/><text class="xg" x="2091" y="2196"><tspan>三、建设高效的课堂，努力提高驾驭课堂的能</tspan><tspan x="2091" dy="12.6">力</tspan></text></g>
<g id="k2c3a1"><rect class="bg" x="2311" y="2129" width="207" height="137" rx="4"/><text class="xg" x="2316" y="2145"><tspan>因为学生在课堂上的一举一动都会直接影响课</tspan><tspan x="2316" dy="12.6">堂教学，所以上课一定要设法吸引学生，不让</tspan><tspan x="2316" dy="12.6">其分心，上课内容力求丰富，现实。教态自然</tspan><tspan x="2316" dy="12.6">，讲课生动，难易适中照顾全部，就自然能够</tspan><tspan x="2316" dy="12.6">吸引住学生。另外，我每天都坚持保持充足的</tspan><tspan x="2316" dy="12.6">精神，让学生感受到一种积极上进的气氛。这</tspan><tspan x="2316" dy="12.6">样，授课就事半功倍。为了让学生真正参入到</tspan><tspan x="2316" dy="12.6">课堂中来，凡是学生自己能讲清楚的问题，都</tspan><tspan x="2316" dy="12.6">让学生自己解决，老师决不越俎代庖，课堂上</tspan><tspan x="2316" dy="12.6">尽量精讲、少讲，把时间都留给学生。</tspan></text></g>
<g id="k2c3b"><rect class="bg" x="2086" y="2332" width="88" height="23" rx="4"/><text class="xg" x="2091" y="2348">四、加强课外辅导</text></g>
<g id="k2c3b1"><rect class="bg" x="2192" y="2287" width="207" height="112" rx="4"/><text class="xg" x="2197" y="2303"><tspan>英语学习是语言的学习。因此，除了课堂效果</tspan><tspan x="2197" dy="12.6">之外，还需要让学生多读，多讲，多练。为此</tspan><tspan x="2197" dy="12.6">，在早读时，我坚持认真了解早读情况，发现</tspan><tspan x="2197" dy="12.6">问题及时纠正。课后发现学生作业问题也及时</tspan><tspan x="2197" dy="12.6">解决，及时讲清楚，让学生即时消化。另外，</tspan><tspan x="2197" dy="12.6">对部分不自觉的同学还采取强制背诵等方式，</tspan><tspan x="2197" dy="12.6">帮助他们养成良好习惯，提高他们的英语学习</tspan><tspan x="2197" dy="12.6">能力。</tspan></text></g>

<!-- Section 5 -->
<g id="n5"><rect class="np" x="718" y="2451" width="188" height="28" rx="14"/><text class="t13 mid ntw" x="812" y="2470">英语教师教学经验工作总结5</text></g>
<g id="m0"><rect class="bp" x="493" y="1782" width="206" height="87" rx="4"/><text class="xp" x="498" y="1798"><tspan>本学年，我担任七年级两个班的英语教学工作</tspan><tspan x="498" dy="12.6">。在工作中我认真学习，深入研究教法，虚心</tspan><tspan x="498" dy="12.6">向老教师和其他同事学习。结合本校的实际条</tspan><tspan x="498" dy="12.6">件和学生的实际情况，我获取了很多宝贵的经</tspan><tspan x="498" dy="12.6">验，学到了实用的教学方法。以下是我在本学</tspan><tspan x="498" dy="12.6">期的教学工作总结。</tspan></text></g>
<g id="m1"><rect class="bp" x="532" y="2038" width="167" height="23" rx="4"/><text class="xp" x="537" y="2054">一、要针对不同的班级进行课堂教学</text></g>
<g id="m1a"><rect class="bp" x="307" y="1889" width="206" height="175" rx="4"/><text class="xp" x="312" y="1905"><tspan>每一个班级就像每一个人，性格、脾气、禀性</tspan><tspan x="312" dy="12.6">各有不同。所以我针对我教的两个班级进行教</tspan><tspan x="312" dy="12.6">学设计：210班的同学思维比较活跃，回答问</tspan><tspan x="312" dy="12.6">题积极，但中等生占较大多数，尖子生相对较</tspan><tspan x="312" dy="12.6">少。因此，上课时我弱化难点，强化重点，照</tspan><tspan x="312" dy="12.6">顾到了大部分同学;而211班的同学偏向沉稳，</tspan><tspan x="312" dy="12.6">积极性有些欠缺。虽然有尖子生，但由于后进</tspan><tspan x="312" dy="12.6">生比例较大，不足于带动整个班级。所以，对</tspan><tspan x="312" dy="12.6">于尖子生我鼓励他们要有"超前"意识，人家没</tspan><tspan x="312" dy="12.6">看到的，没做到的我已经完成了，而对于差生</tspan><tspan x="312" dy="12.6">则鼓励他们把最基本的，最常用的单词，句子</tspan><tspan x="312" dy="12.6">弄懂。经过一段时间的实践，证明教学效果比</tspan><tspan x="312" dy="12.6">上个学期有了进步。</tspan></text></g>
<g id="m1b"><rect class="bp" x="307" y="2086" width="206" height="74" rx="4"/><text class="xp" x="312" y="2102"><tspan>了解及分析学生实际情况，实事求是，具体问</tspan><tspan x="312" dy="12.6">题具体分析，做到因材施教，对授课效果有直</tspan><tspan x="312" dy="12.6">接影响。这就是教育学中提到的"备教法的同</tspan><tspan x="312" dy="12.6">时要备学生"。这一理论在我的教学实践中得</tspan><tspan x="312" dy="12.6">到了验证。</tspan></text></g>
<g id="m2"><rect class="bp" x="580" y="2243" width="119" height="23" rx="4"/><text class="xp" x="585" y="2259">二、备课充分，事半功倍</text></g>
<g id="m2a"><rect class="bp" x="356" y="2180" width="206" height="150" rx="4"/><text class="xp" x="361" y="2196"><tspan>古人说过，"不打无准备之仗"，上课也是一样</tspan><tspan x="361" dy="12.6">，不上无准备之课。我根据教材内容及学生的</tspan><tspan x="361" dy="12.6">实际，并且针对七年级教学目标："旨在培养</tspan><tspan x="361" dy="12.6">学生兴趣"的基础上训练认读单词的能力，设</tspan><tspan x="361" dy="12.6">计课的类型，拟定采用的教学方法，并对教学</tspan><tspan x="361" dy="12.6">过程的程序及时间安排都作了详细的记录，认</tspan><tspan x="361" dy="12.6">真写好教案。对每一课都做到"有备而来"，每</tspan><tspan x="361" dy="12.6">堂课都在课前做好充分的准备，并制作各种利</tspan><tspan x="361" dy="12.6">于吸引学生注意力的有趣教具，课后及时对该</tspan><tspan x="361" dy="12.6">课做出总结，写好教学后记，并认真按搜集每</tspan><tspan x="361" dy="12.6">课书的知识要点，归纳成集。</tspan></text></g>
<g id="m3"><rect class="bp" x="541" y="2407" width="158" height="23" rx="4"/><text class="xp" x="546" y="2423">三、增强上课技能，提高教学质量</text></g>
<g id="m3a"><rect class="bp" x="317" y="2350" width="206" height="137" rx="4"/><text class="xp" x="322" y="2366"><tspan>上课时使讲解清晰化，条理化，准确化，条理</tspan><tspan x="322" dy="12.6">化，准确化，情感化，生动化，做到线索清晰</tspan><tspan x="322" dy="12.6">，层次分明，言简意赅，深入浅出。在课堂上</tspan><tspan x="322" dy="12.6">特别注意调动学生的积极性，加强师生交流，</tspan><tspan x="322" dy="12.6">充分体现学生的主作用，基本做到了让学生学</tspan><tspan x="322" dy="12.6">得容易，学得轻松，学得愉快;注意精讲精练</tspan><tspan x="322" dy="12.6">，在课堂上我讲得尽量少，让学生有更多动口</tspan><tspan x="322" dy="12.6">动手动脑的机会;同时在每一堂课上都充分考</tspan><tspan x="322" dy="12.6">虑每一个层次的学生学习需求和学习能力，让</tspan><tspan x="322" dy="12.6">各个层次的学生都得到提高。</tspan></text></g>
<g id="m4"><rect class="bp" x="492" y="2667" width="207" height="23" rx="4"/><text class="xp" x="497" y="2683">四、贯彻教学大纲的听、说、读、写进行教学</text></g>
<g id="m4a"><rect class="bp" x="268" y="2507" width="206" height="36" rx="4"/><text class="xp" x="273" y="2523"><tspan>在教学过程中，将英语分成听、说、读、写几</tspan><tspan x="273" dy="12.6">方面进行教学。</tspan></text></g>
<g id="m4b"><rect class="bp" x="268" y="2564" width="206" height="49" rx="4"/><text class="xp" x="273" y="2580"><tspan>听：平时放录音，让学生跟录音读，训练学生</tspan><tspan x="273" dy="12.6">的听力，并且利用撑握英语进行训练，还找一</tspan><tspan x="273" dy="12.6">些听力题训练，提高学生的听力。</tspan></text></g>
<g id="m4c"><rect class="bp" x="268" y="2633" width="206" height="61" rx="4"/><text class="xp" x="273" y="2649"><tspan>说：充分利用早读，鼓励学生大胆读书，平时</tspan><tspan x="273" dy="12.6">让学生在日常生活中，多说英语，课堂上多让</tspan><tspan x="273" dy="12.6">学生进行work in pairs训练，提高学生的口</tspan><tspan x="273" dy="12.6">语能力，激发学生的学习兴趣。</tspan></text></g>
<g id="m4d"><rect class="bp" x="268" y="2715" width="206" height="61" rx="4"/><text class="xp" x="273" y="2731"><tspan>读：读方面主要是提高学生的阅读能力，先教</tspan><tspan x="273" dy="12.6">会学生怎样做这些题目，平时让学生多做一些</tspan><tspan x="273" dy="12.6">阅读理解的短文，专门训练，提高学生的阅读</tspan><tspan x="273" dy="12.6">能力。</tspan></text></g>
<g id="m4e"><rect class="bp" x="268" y="2797" width="206" height="74" rx="4"/><text class="xp" x="273" y="2813"><tspan>写：贯彻新题型和新课标的要求，作文教学主</tspan><tspan x="273" dy="12.6">要教授写作方法，进行一些针对性的短文写作</tspan><tspan x="273" dy="12.6">学生的字数和书写这些硬件的东西，平时提倡</tspan><tspan x="273" dy="12.6">学生利用时间用英语写一些简短的文章，从中</tspan><tspan x="273" dy="12.6">提高学生的写作能力。</tspan></text></g>
<g id="m5"><rect class="bp" x="611" y="2922" width="88" height="23" rx="4"/><text class="xp" x="616" y="2938">五、认真批改作业</text></g>
<g id="m5a"><rect class="bp" x="386" y="2890" width="207" height="87" rx="4"/><text class="xp" x="391" y="2906"><tspan>布置作业做到精练。有针对性，有层次性。对</tspan><tspan x="391" dy="12.6">学生的作业批改及时、认真，分析并记录学生</tspan><tspan x="391" dy="12.6">的作业情况，将他们在作业过程出现的问题做</tspan><tspan x="391" dy="12.6">出分类总结，进行透彻的评讲，并针对有关情</tspan><tspan x="391" dy="12.6">况及时改进教学方法，做到有的放矢。培养小</tspan><tspan x="391" dy="12.6">组长帮助我检查其他学生朗读、背诵课文。</tspan></text></g>
<g id="m6"><rect class="bp" x="561" y="3092" width="138" height="23" rx="4"/><text class="xp" x="566" y="3108">六、加强自学，不断积累知识</text></g>
<g id="m6a"><rect class="bp" x="337" y="2998" width="206" height="99" rx="4"/><text class="xp" x="342" y="3014"><tspan>由于本人在英语教学方面经验不足，自己的知</tspan><tspan x="342" dy="12.6">识又有限，在教学的同时，时时虚心向资历深</tspan><tspan x="342" dy="12.6">的教师请教，和我们英语组的同事一起学习有</tspan><tspan x="342" dy="12.6">关英语方面的教学教法，加强自身的业务学习</tspan><tspan x="342" dy="12.6">、扩大视野;不断总结和反思自己的教学实例</tspan><tspan x="342" dy="12.6">，不断领悟新课标精神的实质，力争为成为一</tspan><tspan x="342" dy="12.6">名优秀的英语教师做出不懈的努力。</tspan></text></g>
<g id="m6b"><rect class="bp" x="337" y="3118" width="206" height="87" rx="4"/><text class="xp" x="342" y="3134"><tspan>总之，这一学期经过自己的努力，取得了一定</tspan><tspan x="342" dy="12.6">的成绩。我会在以后努力填补自己在教学中的</tspan><tspan x="342" dy="12.6">不足，不断改进教学方法，积极开发和有效利</tspan><tspan x="342" dy="12.6">用课程资源。多问，多想，多向老教师和同事</tspan><tspan x="342" dy="12.6">学习，更好的为英语教学服务，力争在今后的</tspan><tspan x="342" dy="12.6">英语教学工作中取得更大的进步。</tspan></text></g>

<!-- Section 6 -->
<g id="n6"><rect class="nb" x="1203" y="2604" width="242" height="47" rx="23"/><text class="t13 ntw" x="1226" y="2623.5">英语教师教学经验工作总结相关文<tspan x="1226" y="2641.5">章：</tspan></text></g>
<g id="r1"><rect class="bb" x="1465" y="2420" width="154" height="22" rx="4"/><text class="xb" x="1470" y="2435">★ 英语教师教学心得工作总结5篇</text></g>
<g id="r2"><rect class="bb" x="1465" y="2463" width="154" height="22" rx="4"/><text class="xb" x="1470" y="2478">★ 英语教师教学工作总结报告5篇</text></g>
<g id="r3"><rect class="bb" x="1465" y="2507" width="158" height="22" rx="4"/><text class="xb" x="1470" y="2522">★ 英语教师教学经验交流总结报告</text></g>
<g id="r4"><rect class="bb" x="1465" y="2551" width="154" height="22" rx="4"/><text class="xb" x="1470" y="2566">★ 英语教师课堂教学工作总结5篇</text></g>
<g id="r5"><rect class="bb" x="1465" y="2594" width="133" height="22" rx="4"/><text class="xb" x="1470" y="2609">★ 英语老师教学工作总结5篇</text></g>
<g id="r6"><rect class="bb" x="1465" y="2638" width="154" height="22" rx="4"/><text class="xb" x="1470" y="2653">★ 英语教师教学工作总结5篇模板</text></g>
<g id="r7"><rect class="bb" x="1465" y="2682" width="168" height="22" rx="4"/><text class="xb" x="1470" y="2697">★ 英语教师教学岗位工作总结通用版</text></g>
<g id="r8"><rect class="bb" x="1465" y="2725" width="168" height="22" rx="4"/><text class="xb" x="1470" y="2740">★ 优秀英语教师教学工作总结精简版</text></g>
<g id="r9"><rect class="bb" x="1465" y="2769" width="168" height="22" rx="4"/><text class="xb" x="1470" y="2784">★ 英语教师教育教学工作总结万能版</text></g>
<g id="r10"><rect class="bb" x="1465" y="2813" width="154" height="22" rx="4"/><text class="xb" x="1470" y="2828">★ 初中英语教师教学工作总结5篇</text></g>
</svg>
